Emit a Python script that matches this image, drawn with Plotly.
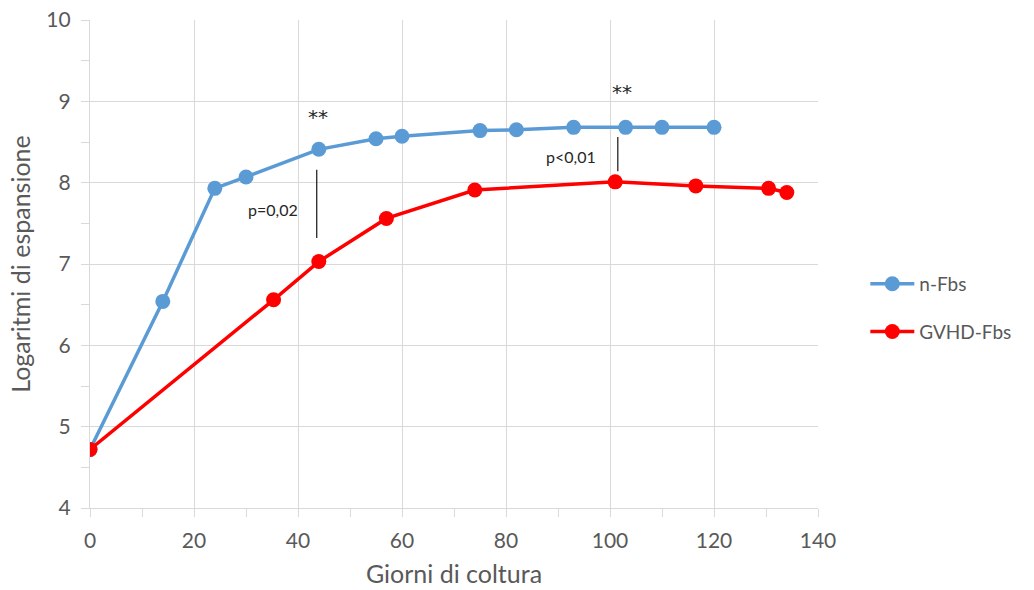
import plotly.graph_objects as go

# Data
n_fbs_days = [0, 14, 24, 30, 44, 55, 60, 75, 82, 93, 103, 110, 120]
n_fbs_log = [4.72, 6.54, 7.93, 8.07, 8.41, 8.54, 8.57, 8.64, 8.65, 8.68, 8.68, 8.68, 8.68]

gvhd_days = [0, 35.3, 44, 57, 74, 101, 116.5, 130.5, 134]
gvhd_log = [4.72, 6.56, 7.03, 7.56, 7.91, 8.01, 7.96, 7.93, 7.88]

# significance annotations
sig_x = [43.6, 101.5]
sig_y0 = [7.32, 8.14]
sig_y1 = [8.16, 8.56]
star_x = [43.8, 102.3]
star_y = [8.81, 9.11]
p_labels = ["p=0,02", "p<0,01"]
p_x = [35.1, 92.5]
p_y = [7.67, 8.32]

BLUE = "#5B9BD5"
RED = "#FF0000"
GRID = "#D9D9D9"
TXT = "#595959"
FONT = "Lato, Open Sans, sans-serif"

fig = go.Figure()
fig.add_trace(go.Scatter(
    x=n_fbs_days, y=n_fbs_log, mode="lines+markers", name="n-Fbs",
    line=dict(color=BLUE, width=3.5), marker=dict(color=BLUE, size=15),
    legendgroup="a"))
fig.add_trace(go.Scatter(
    x=gvhd_days, y=gvhd_log, mode="lines+markers", name="GVHD-Fbs",
    line=dict(color=RED, width=3.5), marker=dict(color=RED, size=15),
    legendgroup="b"))

for i in range(len(sig_x)):
    fig.add_shape(type="line", x0=sig_x[i], x1=sig_x[i], y0=sig_y0[i], y1=sig_y1[i],
                  xref="x", yref="y", line=dict(color="#262626", width=1.3))
    fig.add_annotation(x=star_x[i], y=star_y[i], text="**", showarrow=False,
                       font=dict(family="DejaVu Sans, sans-serif", size=20, color="#262626"))
    fig.add_annotation(x=p_x[i], y=p_y[i], text=p_labels[i], showarrow=False,
                       font=dict(family=FONT, size=16, color="#262626"))

fig.update_layout(
    width=1034, height=590,
    margin=dict(l=90, r=216, t=20, b=82),
    plot_bgcolor="white", paper_bgcolor="white",
    font=dict(family=FONT, color=TXT),
    legend=dict(x=1.065, y=0.41, xanchor="left", yanchor="middle",
                font=dict(size=19, color=TXT), tracegroupgap=20,
                traceorder="grouped", itemwidth=44),
    showlegend=True,
)
fig.update_xaxes(
    range=[0, 140], dtick=20, tick0=0, showgrid=True, gridcolor=GRID, gridwidth=1,
    showline=True, linecolor=GRID, linewidth=1.3, zeroline=False,
    ticks="outside", ticklen=8, tickcolor=GRID, ticklabelstandoff=6,
    minor=dict(dtick=10, ticks="outside", ticklen=8, tickcolor=GRID, showgrid=False),
    tickfont=dict(size=21, color=TXT),
    title=dict(text="Giorni di coltura", font=dict(size=25, color=TXT), standoff=14),
    automargin=False,
)
fig.update_yaxes(
    range=[4, 10], dtick=1, showgrid=True, gridcolor=GRID, gridwidth=1,
    showline=True, linecolor=GRID, linewidth=1.3, zeroline=False,
    ticks="outside", ticklen=8, tickcolor=GRID, ticklabelstandoff=6,
    minor=dict(dtick=0.5, ticks="outside", ticklen=8, tickcolor=GRID, showgrid=False),
    tickfont=dict(size=21, color=TXT),
    title=dict(text="Logaritmi di espansione", font=dict(size=25, color=TXT), standoff=8),
    automargin=False,
)

fig.write_html("out.html")
